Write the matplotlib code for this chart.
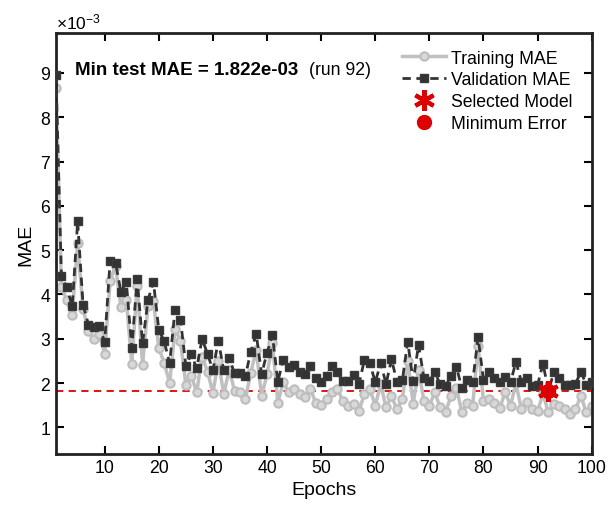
import numpy as np
import matplotlib.pyplot as plt
from matplotlib.ticker import ScalarFormatter

plt.rcParams['font.family'] = ['Liberation Sans', 'DejaVu Sans']
plt.rcParams['mathtext.fontset'] = 'custom'
plt.rcParams['mathtext.rm'] = 'Liberation Sans'

# valores (en unidades de 1e-3)
epocas = np.arange(1, 101)
train_mae = [8.66, 4.17, 3.87, 3.54, 5.16, 3.67, 3.18, 2.99, 3.10, 2.66,
             4.31, 4.65, 3.71, 3.88, 2.43, 4.20, 2.41, 3.75, 3.86, 2.79,
             2.45, 2.00, 3.22, 2.95, 1.96, 2.17, 1.79, 2.60, 2.26, 1.78,
             2.50, 1.75, 2.30, 1.83, 1.79, 1.64, 2.23, 2.75, 1.71, 2.20,
             2.90, 1.56, 2.02, 1.79, 1.87, 1.75, 1.68, 1.87, 1.56, 1.50,
             1.64, 1.79, 1.87, 1.60, 1.49, 1.53, 1.38, 1.75, 1.87, 1.49,
             1.98, 1.45, 1.71, 1.41, 1.64, 2.50, 1.53, 2.30, 1.60, 1.49,
             1.79, 1.45, 1.35, 1.71, 1.90, 1.34, 1.56, 1.49, 2.84, 1.60,
             1.64, 1.56, 1.43, 1.79, 1.49, 2.00, 1.41, 1.58, 1.41, 1.38,
             1.75, 1.34, 1.53, 1.49, 1.41, 1.30, 1.41, 1.71, 1.34, 1.49]
val_mae = [8.95, 4.41, 4.16, 3.73, 5.65, 3.76, 3.32, 3.27, 3.28, 2.93,
           4.76, 4.72, 4.06, 4.27, 2.80, 4.35, 2.90, 3.87, 4.29, 3.20,
           2.94, 2.45, 3.66, 3.43, 2.39, 2.65, 2.33, 3.00, 2.66, 2.29,
           2.96, 2.29, 2.57, 2.22, 2.23, 2.16, 2.71, 3.11, 2.20, 2.69,
           3.08, 2.03, 2.53, 2.36, 2.41, 2.26, 2.20, 2.38, 2.11, 2.02,
           2.17, 2.38, 2.24, 2.05, 2.05, 2.18, 1.98, 2.53, 2.45, 2.02,
           2.45, 1.98, 2.54, 2.03, 2.06, 2.93, 2.04, 2.87, 2.11, 2.05,
           2.24, 1.98, 1.93, 2.17, 2.37, 1.88, 2.07, 2.03, 3.03, 2.08,
           2.26, 2.11, 2.02, 2.14, 2.02, 2.48, 2.03, 2.12, 1.94, 1.96,
           2.44, 1.822, 2.24, 2.11, 1.96, 1.96, 1.98, 2.26, 1.96, 2.03]
mejor_epoca = 92
mae_min = 1.822

train = np.array(train_mae) * 1e-3
val = np.array(val_mae) * 1e-3

fig = plt.figure(figsize=(6.14, 5.06), dpi=100)
ax = fig.add_axes([0.0912, 0.1008, 0.8725, 0.832])

ax.axhline(mae_min * 1e-3, color='#dd0000', linestyle=(0, (4, 3)), linewidth=1.3, zorder=1)
ax.plot(epocas, train, '-o', color='#c0c0c0', linewidth=2.5, markersize=6,
        markerfacecolor='#d8d8d8', markeredgecolor='#bdbdbd', markeredgewidth=1.5,
        label='Training MAE', zorder=2)
ax.plot(epocas, val, '--s', color='#333333', linewidth=2, dashes=(3, 2), markersize=6,
        markerfacecolor='#333333', markeredgecolor='#3a3a3a',
        label='Validation MAE', zorder=3)
ax.plot(mejor_epoca, mae_min * 1e-3, marker=(6, 2, 0), color='#dd0000', markersize=15,
        markeredgewidth=3, linestyle='none', label='Selected Model', zorder=5)
ax.plot(mejor_epoca, mae_min * 1e-3, 'o', color='#dd0000', markersize=10,
        linestyle='none', label='Minimum Error', zorder=4)

ax.set_xlim(1, 100)
ax.set_ylim(0.4e-3, 9.9e-3)
ax.set_xticks(np.arange(10, 101, 10))
ax.set_yticks(np.arange(1, 10) * 1e-3)
fmt = ScalarFormatter(useMathText=True)
fmt.set_powerlimits((-3, -3))
ax.yaxis.set_major_formatter(fmt)

ax.set_xlabel('Epochs', fontsize=14)
ax.set_ylabel('MAE', fontsize=14)
ax.tick_params(direction='in', top=True, right=True, length=6, width=1.5, labelsize=12.7)
ax.yaxis.get_offset_text().set_fontsize(12.5)
for lado in ['top', 'bottom', 'left', 'right']:
    ax.spines[lado].set_linewidth(2)
    ax.spines[lado].set_color('#222222')

ax.text(0.035, 0.914, 'Min test MAE = %.3e' % (mae_min * 1e-3), transform=ax.transAxes,
        fontsize=13.5, fontweight='bold', va='center')
ax.text(0.472, 0.914, '(run %d)' % mejor_epoca, transform=ax.transAxes,
        fontsize=12.7, va='center')

ax.legend(loc='upper left', bbox_to_anchor=(0.622, 0.99), frameon=False, fontsize=12.7,
          handlelength=2.5, handletextpad=0.3, labelspacing=0.28, borderpad=0.2)

fig.savefig('out.png', dpi=100)
